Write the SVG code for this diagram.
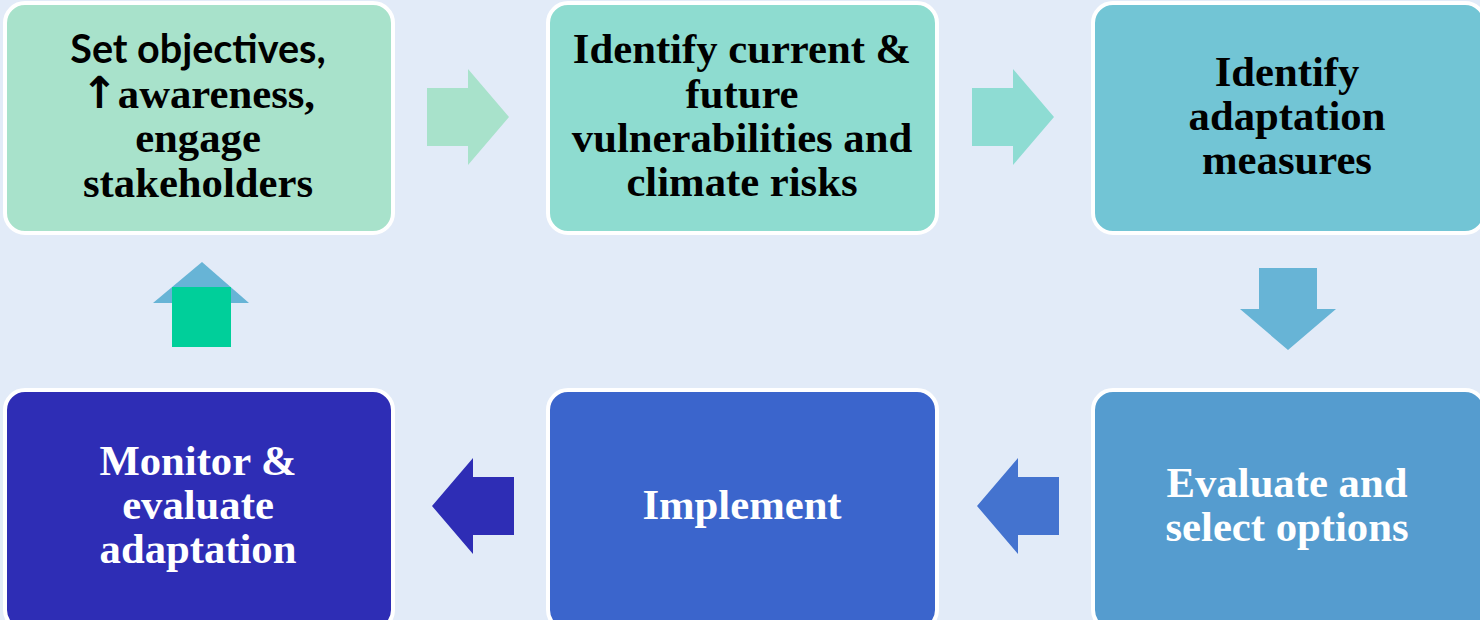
<svg xmlns="http://www.w3.org/2000/svg" width="1480" height="620" viewBox="0 0 1480 620">
<style>
.box{stroke:#ffffff;stroke-width:4}
.t{font-family:"Liberation Serif","Times New Roman",serif;font-weight:bold;font-size:42.7px;text-anchor:middle}
.s{font-family:Lato,"Liberation Sans",sans-serif;font-weight:bold;font-size:39.5px}
.ar{font-family:"DejaVu Sans",sans-serif;font-weight:bold;font-size:44px}
.dk{fill:#000000}
.wh{fill:#ffffff}
</style>
<rect width="1480" height="620" fill="#E2EBF8"/>
<g id="connectors">
<polygon id="a1" points="427,88 468,88 468,69 509,117 468,165 468,146 427,146" fill="#A8E2CB"/>
<polygon id="a2" points="972,88 1013,88 1013,69 1054,117 1013,165 1013,146 972,146" fill="#8EDCD3"/>
<polygon id="a3" points="1259,268 1317,268 1317,309 1336,309 1288,350 1240,309 1259,309" fill="#67B4D6"/>
<polygon id="a4" points="1059,477 1018,477 1018,458 977,506 1018,554 1018,535 1059,535" fill="#4473CF"/>
<polygon id="a5" points="514,477 473,477 473,458 432,506 473,554 473,535 514,535" fill="#2E2DB5"/>
<g id="a6">
<polygon points="202,262 249,303 153,303" fill="#67B4D6"/>
<rect x="172" y="287" width="59" height="60" fill="#00CF9A"/>
</g>
</g>
<g id="n1">
<rect class="box" x="5" y="3" width="388" height="230" rx="20" fill="#A8E2CB"/>
<text class="t dk" x="198" y="63"><tspan class="s">Set objectives,</tspan></text>
<text class="t dk" x="198" y="108"><tspan class="ar">↑</tspan>awareness,</text>
<text class="t dk" x="198" y="152">engage</text>
<text class="t dk" x="198" y="197">stakeholders</text>
</g>
<g id="n2">
<rect class="box" x="548" y="3" width="389" height="230" rx="20" fill="#8EDCD0"/>
<text class="t dk" x="742" y="63">Identify current &amp;</text>
<text class="t dk" x="742" y="108">future</text>
<text class="t dk" x="742" y="152">vulnerabilities and</text>
<text class="t dk" x="742" y="196">climate risks</text>
</g>
<g id="n3">
<rect class="box" x="1093" y="3" width="392" height="230" rx="20" fill="#72C5D5"/>
<text class="t dk" x="1287" y="86">Identify</text>
<text class="t dk" x="1287" y="130">adaptation</text>
<text class="t dk" x="1287" y="174">measures</text>
</g>
<g id="n4">
<rect class="box" x="1093" y="390" width="392" height="240" rx="20" fill="#559CCF"/>
<text class="t wh" x="1287" y="497">Evaluate and</text>
<text class="t wh" x="1287" y="541">select options</text>
</g>
<g id="n5">
<rect class="box" x="548" y="390" width="389" height="240" rx="20" fill="#3B65CC"/>
<text class="t wh" x="742" y="519">Implement</text>
</g>
<g id="n6">
<rect class="box" x="5" y="390" width="388" height="240" rx="20" fill="#2E2DB5"/>
<text class="t wh" x="198" y="475">Monitor &amp;</text>
<text class="t wh" x="198" y="519">evaluate</text>
<text class="t wh" x="198" y="563">adaptation</text>
</g>
</svg>
